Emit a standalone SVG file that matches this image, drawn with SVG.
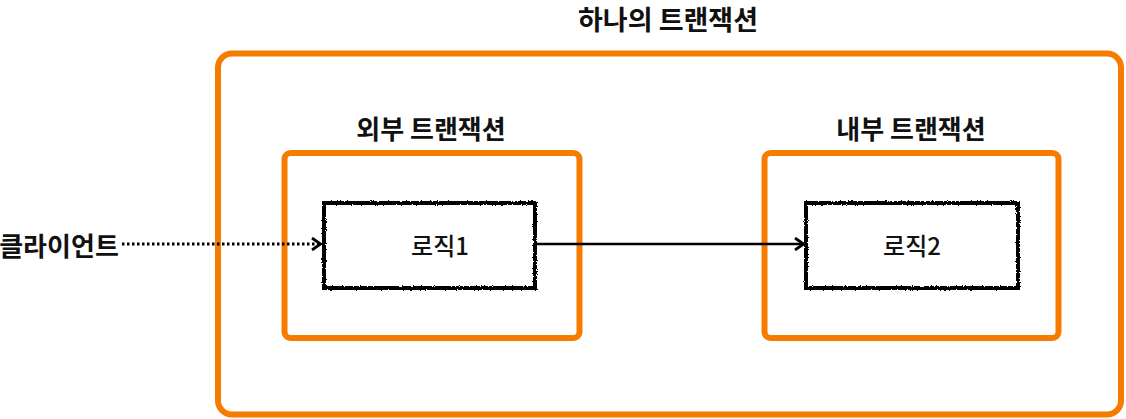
<svg xmlns="http://www.w3.org/2000/svg" width="1126" height="419" viewBox="0 0 1126 419">
  <style>
    .frame { fill: none; stroke: #F57C00; stroke-width: 6; }
    .logic { fill: #ffffff; stroke: #000000; stroke-width: 4; filter: url(#rough); }
    .title { font-family: "Noto Sans CJK KR", "Noto Sans", sans-serif; font-weight: bold; font-size: 26px; fill: #111111; text-anchor: middle; dominant-baseline: central; }
    .label { font-family: "Noto Sans CJK KR", "Noto Sans", sans-serif; font-weight: 500; font-size: 24px; fill: #111111; text-anchor: middle; dominant-baseline: central; }
    .conn { fill: none; stroke: #000000; stroke-width: 2.5; }
    .dotted { stroke-width: 3; stroke-dasharray: 2.5 2.5; }
  </style>
  <defs>
    <filter id="rough" x="-5%" y="-5%" width="110%" height="110%">
      <feTurbulence type="fractalNoise" baseFrequency="0.8" numOctaves="2" seed="3" result="n"/>
      <feDisplacementMap in="SourceGraphic" in2="n" scale="3" xChannelSelector="R" yChannelSelector="G"/>
    </filter>
    <marker id="arrow" viewBox="0 0 12 14" refX="11" refY="7" markerWidth="12" markerHeight="14" markerUnits="userSpaceOnUse" orient="auto">
      <path d="M2,1 L10.5,7 L2,13" fill="none" stroke="#000000" stroke-width="2.8"/>
    </marker>
  </defs>

  <g id="tx-all">
    <rect class="frame" x="218" y="53.5" width="903" height="361" rx="14"/>
    <text class="title" x="668" y="18" style="font-size:27px">하나의 트랜잭션</text>
  </g>

  <g id="tx-outer">
    <rect class="frame" x="284.5" y="153" width="295" height="185" rx="6"/>
    <text class="title" x="431" y="127">외부 트랜잭션</text>
  </g>

  <g id="tx-inner">
    <rect class="frame" x="764.5" y="153" width="294" height="185" rx="6"/>
    <text class="title" x="911" y="127">내부 트랜잭션</text>
  </g>

  <g id="client">
    <text class="title" x="59" y="244">클라이언트</text>
  </g>

  <g id="logic1">
    <rect class="logic" x="324" y="203" width="211" height="85"/>
    <text class="label" x="440" y="244">로직1</text>
  </g>

  <g id="logic2">
    <rect class="logic" x="806" y="203" width="212" height="85"/>
    <text class="label" x="912" y="244">로직2</text>
  </g>

  <g id="connectors">
    <line class="conn dotted" x1="122" y1="244" x2="321" y2="244" marker-end="url(#arrow)"/>
    <line class="conn" x1="536" y1="244" x2="804" y2="244" marker-end="url(#arrow)"/>
  </g>
</svg>
